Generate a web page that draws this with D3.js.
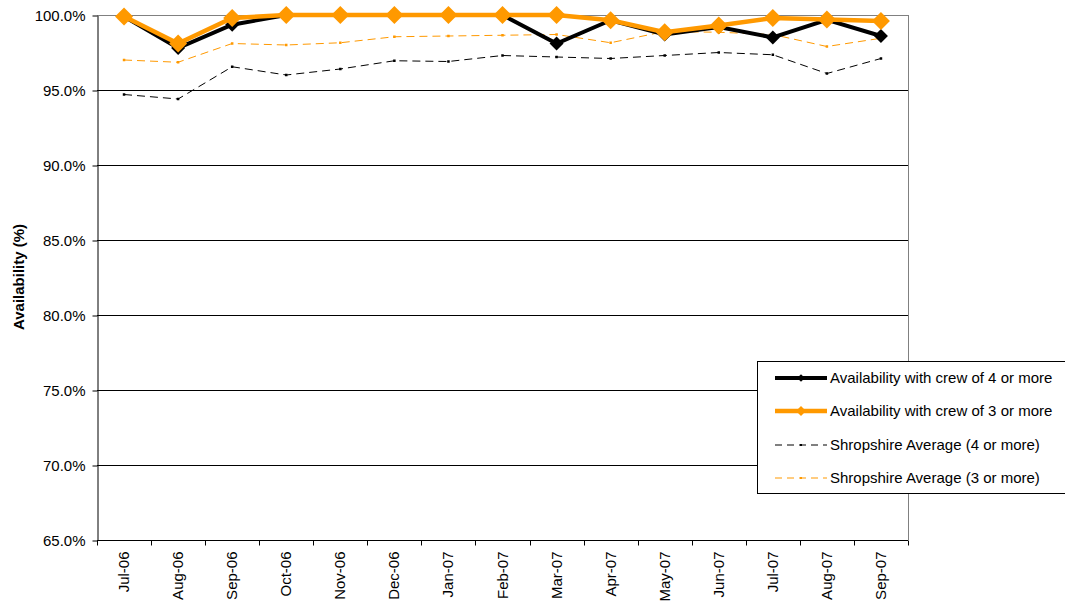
<!DOCTYPE html>
<html>
<head>
<meta charset="utf-8">
<script src="https://cdn.jsdelivr.net/npm/d3@7"></script>
<style>
  body { margin: 0; background: #fff; }
  svg { font-family: "Liberation Sans", Arial, sans-serif; }
</style>
</head>
<body>
<svg></svg>
<script>
// availability chart - months on X, availability % on Y
var width = 1065
var height = 603

var months = ['Jul-06', 'Aug-06', 'Sep-06', 'Oct-06', 'Nov-06', 'Dec-06', 'Jan-07', 'Feb-07',
              'Mar-07', 'Apr-07', 'May-07', 'Jun-07', 'Jul-07', 'Aug-07', 'Sep-07']

var crew4 = [99.9, 97.8, 99.35, 100, 100, 100, 100, 100, 98.1, 99.65, 98.7, 99.2, 98.5, 99.67, 98.6]
var crew3 = [99.9, 98.1, 99.8, 100, 100, 100, 100, 100, 100, 99.65, 98.85, 99.3, 99.8, 99.7, 99.6]
var shrop4 = [94.7, 94.4, 96.55, 96.0, 96.4, 96.95, 96.9, 97.3, 97.2, 97.1, 97.3, 97.5, 97.35, 96.1, 97.1]
var shrop3 = [97.0, 96.85, 98.1, 98.0, 98.15, 98.55, 98.6, 98.65, 98.7, 98.15, 98.9, 98.85, 98.7, 97.9, 98.45]

var yTicks = [65, 70, 75, 80, 85, 90, 95, 100]

var series = [
  { name: 'Availability with crew of 4 or more', values: crew4, color: '#000000', width: 4, dash: null, marker: 'big', msize: 7 },
  { name: 'Availability with crew of 3 or more', values: crew3, color: '#FF9900', width: 4.5, dash: null, marker: 'big', msize: 9 },
  { name: 'Shropshire Average (4 or more)', values: shrop4, color: '#000000', width: 1, dash: '8,5', marker: 'small', msize: 2.5 },
  { name: 'Shropshire Average (3 or more)', values: shrop3, color: '#FF9900', width: 1, dash: '8,5', marker: 'small', msize: 2.5 }
]

var plotLeft = 97, plotRight = 908, plotTop = 15, plotBottom = 540

var xScale = d3.scaleBand()
  .domain(months)
  .range([plotLeft, plotRight])

var yScale = d3.scaleLinear()
  .domain([65, 100])
  .range([plotBottom, plotTop])

var svg = d3.select('svg')
  .attr('width', width)
  .attr('height', height)

// gridlines
svg.append('g')
  .selectAll('line')
  .data(yTicks)
  .enter()
  .append('line')
    .attr('x1', plotLeft)
    .attr('x2', plotRight)
    .attr('y1', d => Math.round(yScale(d)) + 0.5)
    .attr('y2', d => Math.round(yScale(d)) + 0.5)
    .attr('stroke', d => d === 100 ? '#808080' : '#000')
    .attr('stroke-width', 1)

// right border
svg.append('line')
  .attr('x1', plotRight + 0.5).attr('x2', plotRight + 0.5)
  .attr('y1', plotTop).attr('y2', plotBottom)
  .attr('stroke', '#808080')

// y axis
var yAxis = svg.append('g')
  .attr('transform', 'translate(' + (plotLeft + 0.5) + ',0.5)')
  .call(d3.axisLeft(yScale)
          .tickValues(yTicks)
          .tickSize(5)
          .tickSizeOuter(0)
          .tickFormat(d => d.toFixed(1) + '%'))
yAxis.select('.domain').attr('stroke', '#000')
yAxis.selectAll('line').attr('stroke', '#000')
yAxis.selectAll('text')
  .attr('font-size', 15)
  .attr('font-family', '"Liberation Sans", Arial, sans-serif')
  .attr('fill', '#000')
  .attr('x', -12)

// x axis: ticks at category boundaries
var xAxisG = svg.append('g')
  .attr('transform', 'translate(0,' + (plotBottom + 0.5) + ')')
xAxisG.append('line')
  .attr('x1', plotLeft).attr('x2', plotRight)
  .attr('stroke', '#000')
xAxisG.selectAll('.tk')
  .data(d3.range(months.length + 1))
  .enter()
  .append('line')
    .attr('x1', i => Math.round(plotLeft + i * xScale.step()) + 0.5)
    .attr('x2', i => Math.round(plotLeft + i * xScale.step()) + 0.5)
    .attr('y1', 0)
    .attr('y2', 5)
    .attr('stroke', '#000')
xAxisG.selectAll('text')
  .data(months)
  .enter()
  .append('text')
    .attr('transform', d => 'translate(' + (xScale(d) + xScale.bandwidth() / 2 + 5) + ',11) rotate(-90)')
    .attr('text-anchor', 'end')
    .attr('font-size', 15)
    .text(d => d)

// y axis title
svg.append('text')
  .attr('transform', 'rotate(-90)')
  .attr('x', -277)
  .attr('y', 24)
  .attr('text-anchor', 'middle')
  .attr('font-size', 15)
  .attr('font-weight', 'bold')
  .text('Availability (%)')

var cx = i => xScale(months[i]) + xScale.bandwidth() / 2

var line = d3.line()
  .x((d, i) => cx(i))
  .y(d => yScale(d))

function diamond(s) {
  return 'M0,' + (-s) + 'L' + s + ',0L0,' + s + 'L' + (-s) + ',0Z'
}

// draw dashed averages first, then main lines (orange over black)
var order = [3, 2, 0, 1]
order.forEach(function(k) {
  var s = series[k]
  svg.append('path')
    .datum(s.values)
    .attr('d', line)
    .attr('fill', 'none')
    .attr('stroke', s.color)
    .attr('stroke-width', s.width)
    .attr('stroke-dasharray', s.dash)
    .attr('stroke-linejoin', 'miter')

  if (s.marker === 'big') {
    svg.append('g')
      .selectAll('path')
      .data(s.values)
      .enter()
      .append('path')
        .attr('transform', (d, i) => 'translate(' + cx(i) + ',' + yScale(d) + ')')
        .attr('d', diamond(s.msize))
        .attr('fill', s.color)
  } else {
    svg.append('g')
      .selectAll('rect')
      .data(s.values)
      .enter()
      .append('rect')
        .attr('x', (d, i) => cx(i) - s.msize / 2)
        .attr('y', d => yScale(d) - s.msize / 2)
        .attr('width', s.msize)
        .attr('height', s.msize)
        .attr('fill', s.color)
  }
})

// legend
var legend = svg.append('g')
legend.append('rect')
  .attr('x', 757.5)
  .attr('y', 361.5)
  .attr('width', 320)
  .attr('height', 132)
  .attr('fill', '#fff')
  .attr('stroke', '#000')

var legendY = [378, 411, 445, 478]
series.forEach(function(s, i) {
  var g = legend.append('g')
    .attr('transform', 'translate(775,' + legendY[i] + ')')
  g.append('line')
    .attr('x1', 0).attr('x2', 52)
    .attr('stroke', s.color)
    .attr('stroke-width', s.width)
    .attr('stroke-dasharray', s.dash ? '7,5' : null)
  if (s.marker === 'big') {
    g.append('path')
      .attr('transform', 'translate(26,0)')
      .attr('d', diamond(s.msize * 0.55))
      .attr('fill', s.color)
  } else {
    g.append('rect')
      .attr('x', 25).attr('y', -1)
      .attr('width', 2).attr('height', 2)
      .attr('fill', s.color)
  }
  g.append('text')
    .attr('x', 55)
    .attr('y', 5)
    .attr('font-size', 15)
    .text(s.name)
})
</script>
</body>
</html>
